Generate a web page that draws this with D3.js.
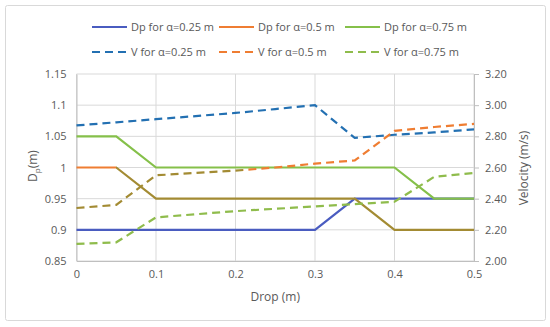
<!DOCTYPE html>
<html>
<head>
<meta charset="utf-8">
<script src="https://cdn.jsdelivr.net/npm/d3@7"></script>
<style>
  body { margin: 0; background: #fff; }
  svg text { font-family: "Open Sans", "Noto Sans", sans-serif; fill: #595959; }
</style>
</head>
<body>
<div id="chart"></div>
<script>
// drop values (m), shared by all series
var drops = [0, 0.05, 0.1, 0.15, 0.2, 0.25, 0.3, 0.35, 0.4, 0.45, 0.5];

// Dp (left axis)
var dp025 = [0.9, 0.9, 0.9, 0.9, 0.9, 0.9, 0.9, 0.95, 0.95, 0.95, 0.95];
var dp05  = [1.0, 1.0, 0.95, 0.95, 0.95, 0.95, 0.95, 0.95, 0.9, 0.9, 0.9];
var dp075 = [1.05, 1.05, 1.0, 1.0, 1.0, 1.0, 1.0, 1.0, 1.0, 0.95, 0.95];

// velocity (right axis)
var v025 = [2.87, 2.89, 2.91, 2.93, 2.95, 2.975, 3.0, 2.79, 2.81, 2.825, 2.845];
var v05  = [2.34, 2.36, 2.55, 2.565, 2.58, 2.60, 2.625, 2.645, 2.835, 2.86, 2.88];
var v075 = [2.11, 2.12, 2.28, 2.30, 2.32, 2.335, 2.35, 2.365, 2.38, 2.54, 2.565];

var xTicks = [0, 0.1, 0.2, 0.3, 0.4, 0.5];
var yLeftTicks = [0.85, 0.9, 0.95, 1, 1.05, 1.1, 1.15];
var yRightTicks = [2.0, 2.2, 2.4, 2.6, 2.8, 3.0, 3.2];

var seriesNames = ["Dp for α=0.25 m", "Dp for α=0.5 m", "Dp for α=0.75 m",
                   "V for α=0.25 m", "V for α=0.5 m", "V for α=0.75 m"];

var W = 550, H = 327;
var margin = {top: 74, right: 76, bottom: 66, left: 76.5};
var width = W - margin.left - margin.right,
    height = H - margin.top - margin.bottom;

var svg = d3.select("#chart").append("svg")
    .attr("width", W)
    .attr("height", H);

// chart border
svg.append("rect")
    .attr("x", 5.5).attr("y", 5.5)
    .attr("width", 540).attr("height", 315)
    .attr("rx", 2)
    .style("fill", "#fff")
    .style("stroke", "#d9d9d9")
    .style("stroke-width", 1);

var g = svg.append("g")
    .attr("transform", "translate(" + margin.left + "," + margin.top + ")");

var x = d3.scaleLinear().domain([0, 0.5]).range([0, width]);
var yL = d3.scaleLinear().domain([0.85, 1.15]).range([height, 0]);
var yR = d3.scaleLinear().domain([2.0, 3.2]).range([height, 0]);

// gridlines
g.append("g").selectAll("line.h")
    .data(yLeftTicks).enter()
  .append("line")
    .attr("x1", 0).attr("x2", width)
    .attr("y1", d => yL(d)).attr("y2", d => yL(d))
    .style("stroke", "#d9d9d9");

g.append("g").selectAll("line.v")
    .data(xTicks).enter()
  .append("line")
    .attr("x1", d => x(d)).attr("x2", d => x(d))
    .attr("y1", 0).attr("y2", height)
    .style("stroke", "#d9d9d9");

// axes
var xAxis = g.append("g")
    .attr("transform", "translate(0," + height + ")")
    .call(d3.axisBottom(x).tickValues(xTicks).tickSize(0).tickPadding(9).tickFormat(d3.format("")));

var leftAxis = g.append("g")
    .call(d3.axisLeft(yL).tickValues(yLeftTicks).tickSize(0).tickPadding(10).tickFormat(d3.format("")));

var rightAxis = g.append("g")
    .attr("transform", "translate(" + width + ",0)")
    .call(d3.axisRight(yR).tickValues(yRightTicks).tickSize(5).tickPadding(6).tickFormat(d3.format(".2f")));

[xAxis, leftAxis, rightAxis].forEach(function(a){
  a.select(".domain").style("stroke", "#bfbfbf");
  a.selectAll("line").style("stroke", "#bfbfbf");
  a.selectAll("text").style("font-size", "11px").style("fill", "#595959");
});

// gradients for the discoloured parts of the orange series
var defs = svg.append("defs");
function splitGradient(id, xs, colors){
  var grad = defs.append("linearGradient")
      .attr("id", id)
      .attr("gradientUnits", "userSpaceOnUse")
      .attr("x1", 0).attr("x2", width).attr("y1", 0).attr("y2", 0);
  var t = x(xs) / width;
  grad.append("stop").attr("offset", t).attr("stop-color", colors[0]);
  grad.append("stop").attr("offset", t).attr("stop-color", colors[1]);
}
splitGradient("gDp05", 0.05, ["#ef7d32", "#a38b33"]);
splitGradient("gV05", 0.21, ["#a38b33", "#ef7d32"]);

var series = [
  {values: dp025, scale: yL, color: "#4a5cc0", dash: null},
  {values: dp075, scale: yL, color: "#85c04a", dash: null},
  {values: dp05,  scale: yL, color: "url(#gDp05)", dash: null},
  {values: v025,  scale: yR, color: "#2370b2", dash: "8,5"},
  {values: v05,   scale: yR, color: "url(#gV05)", dash: "8,5"},
  {values: v075,  scale: yR, color: "#8fbc4c", dash: "8,5"}
];

series.forEach(function(s){
  var line = d3.line()
    .x((d, i) => x(drops[i]))
    .y(d => s.scale(d));
  g.append("path")
    .datum(s.values)
    .attr("d", line)
    .style("fill", "none")
    .style("stroke", s.color)
    .style("stroke-width", 2.2)
    .style("stroke-dasharray", s.dash);
});

// axis titles
svg.append("text")
    .attr("x", margin.left + width / 2)
    .attr("y", 301)
    .style("text-anchor", "middle")
    .style("font-size", "12px")
    .text("Drop (m)");

var yl = svg.append("text")
    .attr("transform", "translate(37,166) rotate(-90)")
    .style("text-anchor", "middle")
    .style("font-size", "12px");
yl.append("tspan").text("D");
yl.append("tspan").attr("dy", 3).style("font-size", "8px").text("p");
yl.append("tspan").attr("dy", -3).text("(m)");

svg.append("text")
    .attr("transform", "translate(528,168) rotate(-90)")
    .style("text-anchor", "middle")
    .style("font-size", "12px")
    .text("Velocity (m/s)");

// legend
var legendColors = ["#4a5cc0", "#ef7d32", "#85c04a", "#2370b2", "#ef7d32", "#8fbc4c"];
var legendX = [92, 219, 345];
var legendY = [27, 52];

var legend = svg.append("g").selectAll("g.leg")
    .data(seriesNames).enter()
  .append("g")
    .attr("class", "leg")
    .attr("transform", (d, i) => "translate(" + legendX[i % 3] + "," + legendY[Math.floor(i / 3)] + ")");

legend.append("line")
    .attr("x1", 0).attr("x2", 35)
    .style("stroke", (d, i) => legendColors[i])
    .style("stroke-width", 2.2)
    .style("stroke-dasharray", (d, i) => i >= 3 ? "8,5" : null);

legend.append("text")
    .attr("x", 39)
    .attr("dy", "0.35em")
    .style("font-size", "11px")
    .text(d => d);
</script>
</body>
</html>
